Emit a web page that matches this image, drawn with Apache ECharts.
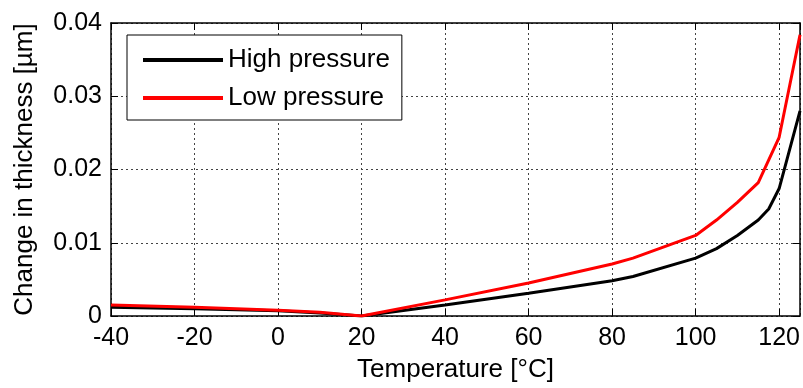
<!DOCTYPE html>
<html>
<head>
<meta charset="utf-8">
<script src="https://cdn.jsdelivr.net/npm/echarts@6/dist/echarts.min.js"></script>
<style>
  html, body { margin: 0; padding: 0; background: #fff; }
  #chart { width: 803px; height: 388px; }
</style>
</head>
<body>
<div id="chart"></div>
<script>
// Temperature sweep (°C) and thickness change (µm) for both pressure settings
const highTemps = [-40, -20, 0, 10, 20, 40, 60, 80, 85, 100, 105, 110, 115, 117.5, 120, 125];
const highValues = [0.0012, 0.0010, 0.0007, 0.0004, 0, 0.0015, 0.0031, 0.0048, 0.0054, 0.0079, 0.0092, 0.0110, 0.0131, 0.0146, 0.0174, 0.0280];
const lowTemps = [-40, -20, 0, 10, 20, 40, 60, 80, 85, 100, 105, 110, 115, 120, 125];
const lowValues = [0.0015, 0.0012, 0.0008, 0.0005, 0, 0.0022, 0.0045, 0.0071, 0.0079, 0.0110, 0.0131, 0.0155, 0.0182, 0.0244, 0.0384];
const seriesNames = ['High pressure', 'Low pressure'];
const xTitle = 'Temperature [°C]';
const yTitle = 'Change in thickness [µm]';

const FONT = 'Liberation Sans, Arial, sans-serif';
const pairs = (xs, ys) => xs.map((x, i) => [x, ys[i]]);

const chart = echarts.init(document.getElementById('chart'), null, { renderer: 'canvas' });

const gridLine = { show: true, lineStyle: { color: '#444', type: [2, 3], width: 1 } };
const tickIn = { show: true, inside: true, length: 7, lineStyle: { color: '#000', width: 1 } };
const axisLine = { show: true, onZero: false, lineStyle: { color: '#000', width: 1.5 } };

chart.setOption({
  animation: false,
  grid: { left: 111, right: 1, top: 23, bottom: 70, containLabel: false },
  legend: {
    data: seriesNames,
    orient: 'vertical',
    left: 127,
    top: 35,
    padding: [12, 12, 9, 16],
    itemGap: 12,
    itemWidth: 80,
    itemHeight: 4,
    itemTextGap: 9,
    icon: 'rect',
    borderColor: '#000',
    borderWidth: 1,
    backgroundColor: '#fff',
    textStyle: { fontFamily: FONT, fontSize: 26, color: '#000' }
  },
  xAxis: [
    {
      type: 'value', min: -40, max: 125, interval: 20,
      name: xTitle, nameLocation: 'middle', nameGap: 41,
      nameTextStyle: { fontFamily: FONT, fontSize: 26, color: '#000' },
      axisLine: axisLine, axisTick: tickIn, splitLine: gridLine,
      axisLabel: { fontFamily: FONT, fontSize: 25, color: '#000', margin: 10, showMaxLabel: false }
    },
    {
      type: 'value', min: -40, max: 125, interval: 20, position: 'top',
      axisLine: axisLine, axisTick: tickIn, splitLine: { show: false },
      axisLabel: { show: false }
    }
  ],
  yAxis: [
    {
      type: 'value', min: 0, max: 0.04, interval: 0.01,
      name: yTitle, nameLocation: 'middle', nameGap: 73, nameRotate: 90,
      nameTextStyle: { fontFamily: FONT, fontSize: 26, color: '#000' },
      axisLine: axisLine, axisTick: tickIn, splitLine: gridLine,
      axisLabel: {
        fontFamily: FONT, fontSize: 25, color: '#000', margin: 9,
        formatter: v => (v === 0 ? '0' : v.toFixed(2))
      }
    },
    {
      type: 'value', min: 0, max: 0.04, interval: 0.01, position: 'right',
      axisLine: axisLine, axisTick: tickIn, splitLine: { show: false },
      axisLabel: { show: false }
    }
  ],
  series: [
    {
      name: seriesNames[0], type: 'line', data: pairs(highTemps, highValues),
      showSymbol: false, symbol: 'none', color: '#000',
      lineStyle: { color: '#000', width: 3 }
    },
    {
      name: seriesNames[1], type: 'line', data: pairs(lowTemps, lowValues),
      showSymbol: false, symbol: 'none', color: '#ff0000',
      lineStyle: { color: '#ff0000', width: 3 }
    }
  ]
});
</script>
</body>
</html>
